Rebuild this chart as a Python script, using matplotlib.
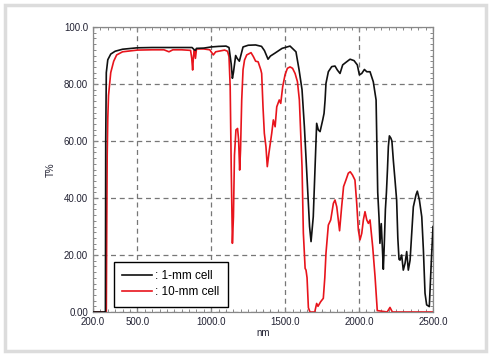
import matplotlib
matplotlib.use("Agg")
import matplotlib.pyplot as plt
from matplotlib.patches import Rectangle
from matplotlib.ticker import MultipleLocator, FixedLocator

plt.rcParams['font.family'] = ['Liberation Sans', 'DejaVu Sans']

# 1-mm cell
nm_1mm = [200, 280, 284, 286, 290, 300, 320, 350, 400, 500, 600, 700, 800, 870, 885, 893,
          900, 950, 1000, 1050, 1100, 1120, 1135, 1143, 1150, 1165, 1175, 1190, 1200, 1215,
          1250, 1300, 1340, 1360, 1384, 1400, 1430, 1479, 1533, 1573, 1594, 1614, 1630,
          1650, 1665, 1675, 1690, 1713, 1724, 1736, 1754, 1763, 1770, 1776, 1792, 1815,
          1837, 1853, 1871, 1889, 1916, 1939, 1966, 1988, 2002, 2018, 2036, 2052, 2074,
          2096, 2115, 2126, 2135, 2141, 2150, 2158, 2164, 2170, 2178, 2185, 2192, 2198,
          2205, 2215, 2222, 2232, 2243, 2254, 2262, 2270, 2277, 2288, 2299, 2311, 2322,
          2333, 2345, 2356, 2367, 2385, 2394, 2408, 2424, 2435, 2446, 2457, 2475, 2487, 2500]
T_1mm = [0, 0, 0, 60, 84, 88.5, 90.5, 91.5, 92.2, 92.7, 92.8, 92.8, 92.8, 92.8, 92.0, 91.8,
         92.5, 92.6, 93.0, 93.2, 93.3, 92.8, 87, 82, 84, 90, 89, 88, 90, 93,
         93.6, 93.7, 93.2, 91.7, 88.7, 89.8, 90.8, 92.5, 93.3, 91.3, 85, 78, 65,
         45, 30, 24.7, 33.4, 66.2, 63.9, 63.3, 67.4, 69.7, 74.4, 80.2, 84.3, 86.1,
         86.3, 84.9, 83.7, 86.7, 87.8, 88.7, 88.2, 86.7, 83.2, 83.7, 85.1, 84.3, 84.3,
         80.8, 74.4, 42, 33, 24.1, 31, 22, 15, 23, 36, 42, 50, 58,
         61.8, 61, 60, 53, 46.3, 39.3, 26, 18.5, 18.2, 20, 14.7, 17.1, 21.2,
         14.7, 18.2, 27.6, 36.9, 41.1, 42.4, 39.3, 33.4, 21.8, 6.6, 2.5, 1.9, 15.9, 30]

# 10-mm cell
nm_10mm = [200, 290, 293, 296, 300, 305, 320, 340, 360, 400, 500, 600, 680, 714, 740, 800,
           860, 868, 874, 880, 886, 893, 900, 950, 990, 1014, 1030, 1060, 1090, 1110, 1120,
           1128, 1135, 1143, 1150, 1157, 1167, 1178, 1185, 1192, 1198, 1206, 1215, 1225,
           1240, 1269, 1285, 1300, 1317, 1335, 1341, 1350, 1359, 1370, 1379, 1390, 1409,
           1420, 1432, 1443, 1460, 1470, 1483, 1499, 1515, 1533, 1550, 1567, 1583, 1596,
           1605, 1614, 1623, 1635, 1641, 1648, 1657, 1668, 1700, 1713, 1722, 1740, 1758,
           1768, 1776, 1792, 1808, 1826, 1837, 1849, 1868, 1882, 1895, 1911, 1927, 1940,
           1955, 1972, 1984, 1995, 2006, 2018, 2029, 2040, 2052, 2063, 2074, 2092, 2108,
           2123, 2190, 2209, 2225, 2500]
T_10mm = [0, 0, 30, 55, 68, 76, 84, 88, 90.2, 91.3, 91.9, 92.0, 92.0, 91.3, 92.0, 92.0,
          91.8, 89, 84.9, 90, 91.9, 89, 92.3, 92.3, 92.0, 90.2, 91.3, 91.6, 91.9, 91.5, 89.6,
          79, 51, 24.1, 33.4, 55, 63.9, 64.4, 60.4, 49.8, 56.8, 74.4, 85, 88.4,
          90.2, 91, 89.6, 88, 87.8, 85, 83.7, 72, 62.7, 58, 51, 55.7, 62.7,
          67.4, 65, 72, 74.4, 73.2, 79, 83.2, 85.5, 86, 85.5, 83.7, 80.8, 74.4,
          62.7, 51, 27.7, 15.3, 14.7, 12, 1.5, 0, 0, 3, 2, 3.6, 4.8,
          12, 20.6, 30.5, 32.3, 38.1, 39.3, 36.9, 28.5, 36.9, 44, 46.3, 48.7, 49.2,
          48.1, 46.3, 38.1, 28.8, 25.3, 27.6, 32.3, 35.2, 32.3, 31.1, 32.3, 22.9, 12.4,
          0.5, 0, 1.6, 0, 0]

x_ticks = [200, 500, 1000, 1500, 2000, 2500]
x_labels = ["200.0", "500.0", "1000.0", "1500.0", "2000.0", "2500.0"]
y_ticks = [0, 20, 40, 60, 80, 100]
y_labels = ["0.00", "20.00", "40.00", "60.00", "80.00", "100.0"]

fig = plt.figure(figsize=(4.92, 3.55), dpi=100)
fig.patch.set_facecolor('white')
fig.patches.append(Rectangle((5/492, 4/355), 481/492, 346/355, transform=fig.transFigure,
                             fill=False, edgecolor='#dcdcdc', linewidth=2.5))

ax = fig.add_axes([93/492, 1 - 312/355, 340/492, 285/355])
ax.plot(nm_1mm, T_1mm, color='#111111', lw=1.2, label=': 1-mm cell', zorder=3)
ax.plot(nm_10mm, T_10mm, color='#e8141c', lw=1.2, label=': 10-mm cell', zorder=2)

ax.set_xlim(200, 2500)
ax.set_ylim(0, 100)
ax.xaxis.set_major_locator(FixedLocator(x_ticks))
ax.set_xticklabels(x_labels)
ax.yaxis.set_major_locator(FixedLocator(y_ticks))
ax.set_yticklabels(y_labels)
ax.xaxis.set_minor_locator(MultipleLocator(50))
ax.yaxis.set_minor_locator(MultipleLocator(2))
ax.tick_params(which='both', direction='in', top=True, right=True, colors='#888888',
               labelcolor='#222233', labelsize=7)
ax.tick_params(which='major', length=3, width=0.8)
ax.tick_params(which='minor', length=2.5, width=0.7)
ax.grid(True, which='major', linestyle=(0, (4, 3)), color='#777777', linewidth=0.9)
for s in ax.spines.values():
    s.set_color('#888888')
    s.set_linewidth(0.9)

ax.set_xlabel('nm', fontsize=7, color='#222233', labelpad=1)
ax.set_ylabel('T%', fontsize=7, color='#222233', labelpad=6)

leg = ax.legend(loc='upper left', bbox_to_anchor=(21/340, 50/285), frameon=True,
                fancybox=False, framealpha=1, edgecolor='black', fontsize=8.5,
                handlelength=2.5, handletextpad=0.3, borderaxespad=0, borderpad=0.7,
                labelspacing=0.35)
leg.get_frame().set_linewidth(1.0)

fig.savefig('out.png', dpi=100)
